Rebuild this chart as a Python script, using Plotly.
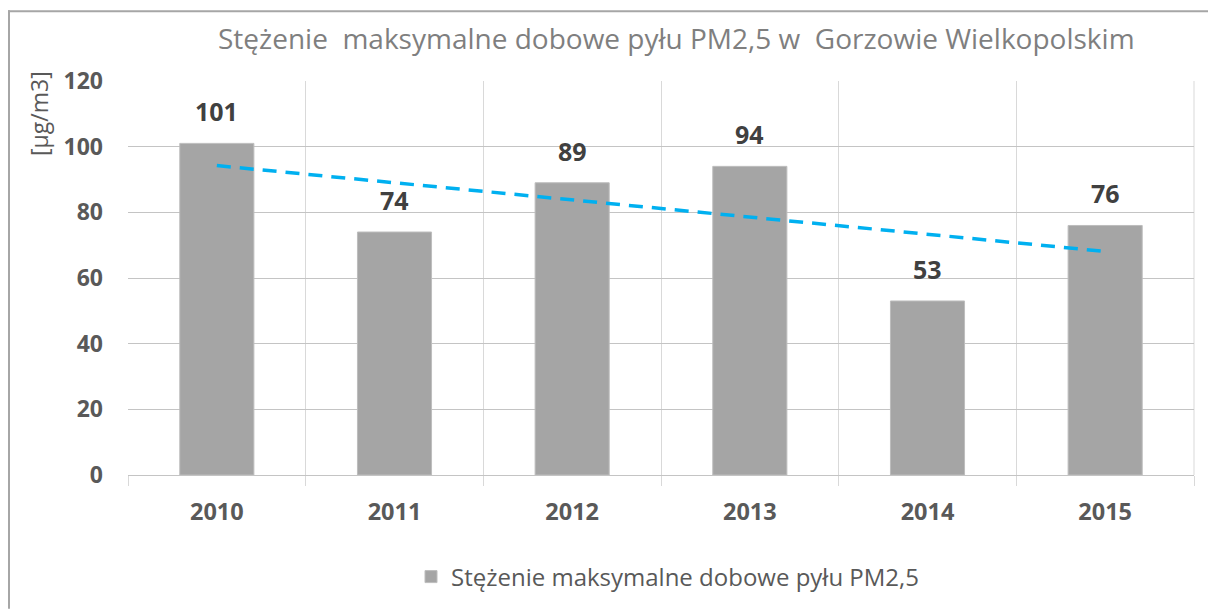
import numpy as np
import plotly.graph_objects as go

# Maximum daily PM2.5 concentration, Gorzów Wielkopolski
years = ["2010", "2011", "2012", "2013", "2014", "2015"]
pm25_max = [101, 74, 89, 94, 53, 76]
y_ticks = [0, 20, 40, 60, 80, 100, 120]

title_text = "Stężenie  maksymalne dobowe pyłu PM2,5 w  Gorzowie Wielkopolskim"
series_name = "Stężenie maksymalne dobowe pyłu PM2,5"
unit_label = "[µg/m3]"

# Linear trend over the series (least squares, like a spreadsheet trendline)
xi = np.arange(len(pm25_max))
slope, intercept = np.polyfit(xi, pm25_max, 1)
trend = (slope * xi + intercept).tolist()

W, H = 1208, 610
L, R, T, B = 128, 14, 81, 134
pw, ph = W - L - R, H - T - B


def px_x(x):
    return (x - L) / pw


def px_y(y):
    return (H - B - y) / ph


FONT = "Open Sans"

fig = go.Figure()
fig.add_trace(go.Bar(
    x=years, y=pm25_max, name=series_name,
    marker=dict(color="#A5A5A5", line=dict(color="#BDBDBD", width=1)),
))
fig.add_trace(go.Scatter(
    x=years, y=trend, mode="lines", showlegend=False, hoverinfo="skip",
    line=dict(color="#00B0F0", width=3.5, dash="14px,9px"),
))

# value labels above the bars (category positions given by index)
value_labels = [
    dict(x=i, y=v, xref="x", yref="y", text=str(v), showarrow=False,
         xanchor="center", yanchor="bottom", yshift=13,
         font=dict(family=FONT, size=25, color="#404040", weight="bold"))
    for i, v in enumerate(pm25_max)
]

frame = dict(color="#A6A6A6", width=2)

fig.update_layout(
    width=W, height=H,
    margin=dict(l=L, r=R, t=T, b=B),
    paper_bgcolor="white", plot_bgcolor="white",
    bargap=0.583,
    showlegend=True,
    legend=dict(
        orientation="h", x=px_x(668), xanchor="center",
        y=px_y(577), yanchor="middle",
        font=dict(family=FONT, size=24, color="#595959"),
        itemwidth=30,
    ),
    xaxis=dict(
        type="category", categoryorder="array", categoryarray=years,
        range=[-0.5, len(years) - 0.5],
        tickson="boundaries", ticks="outside", ticklen=10,
        tickcolor="#D9D9D9", showgrid=True, gridcolor="#D9D9D9", gridwidth=1,
        showline=False, zeroline=False, tickangle=0,
        tickfont=dict(family=FONT, size=23.5, color="#595959", weight="bold"),
        ticklabelstandoff=20,
    ),
    yaxis=dict(
        range=[0, 120], tickvals=y_ticks, showgrid=True, gridcolor="#C4C4C4",
        gridwidth=1, zeroline=True, zerolinecolor="#C4C4C4", zerolinewidth=1,
        showline=False, ticks="",
        tickfont=dict(family=FONT, size=23, color="#595959", weight="bold"),
        ticklabelstandoff=24,
    ),
    annotations=[
        dict(text=title_text, xref="paper", yref="paper",
             x=px_x(676), y=px_y(38), xanchor="center", yanchor="middle",
             showarrow=False,
             font=dict(family=FONT, size=28, color="#7F7F7F")),
        dict(text=unit_label, xref="paper", yref="paper",
             x=px_x(39), y=px_y(114), xanchor="center", yanchor="middle",
             textangle=-90, showarrow=False,
             font=dict(family=FONT, size=23, color="#595959")),
    ] + value_labels,
    shapes=[
        # outer chart frame: top and left edges
        dict(type="line", xref="paper", yref="paper",
             x0=px_x(8), x1=px_x(1208), y0=px_y(11), y1=px_y(11),
             line=frame, layer="below"),
        dict(type="line", xref="paper", yref="paper",
             x0=px_x(9), x1=px_x(9), y0=px_y(10), y1=px_y(610),
             line=frame, layer="below"),
        # right edge of the plot area
        dict(type="line", xref="paper", yref="paper",
             x0=1, x1=1, y0=0, y1=1,
             line=dict(color="#D9D9D9", width=1), layer="below"),
    ],
)

fig.write_html(
    "out.html",
    post_script="document.body.style.margin='0';document.body.style.overflow='hidden';",
)
